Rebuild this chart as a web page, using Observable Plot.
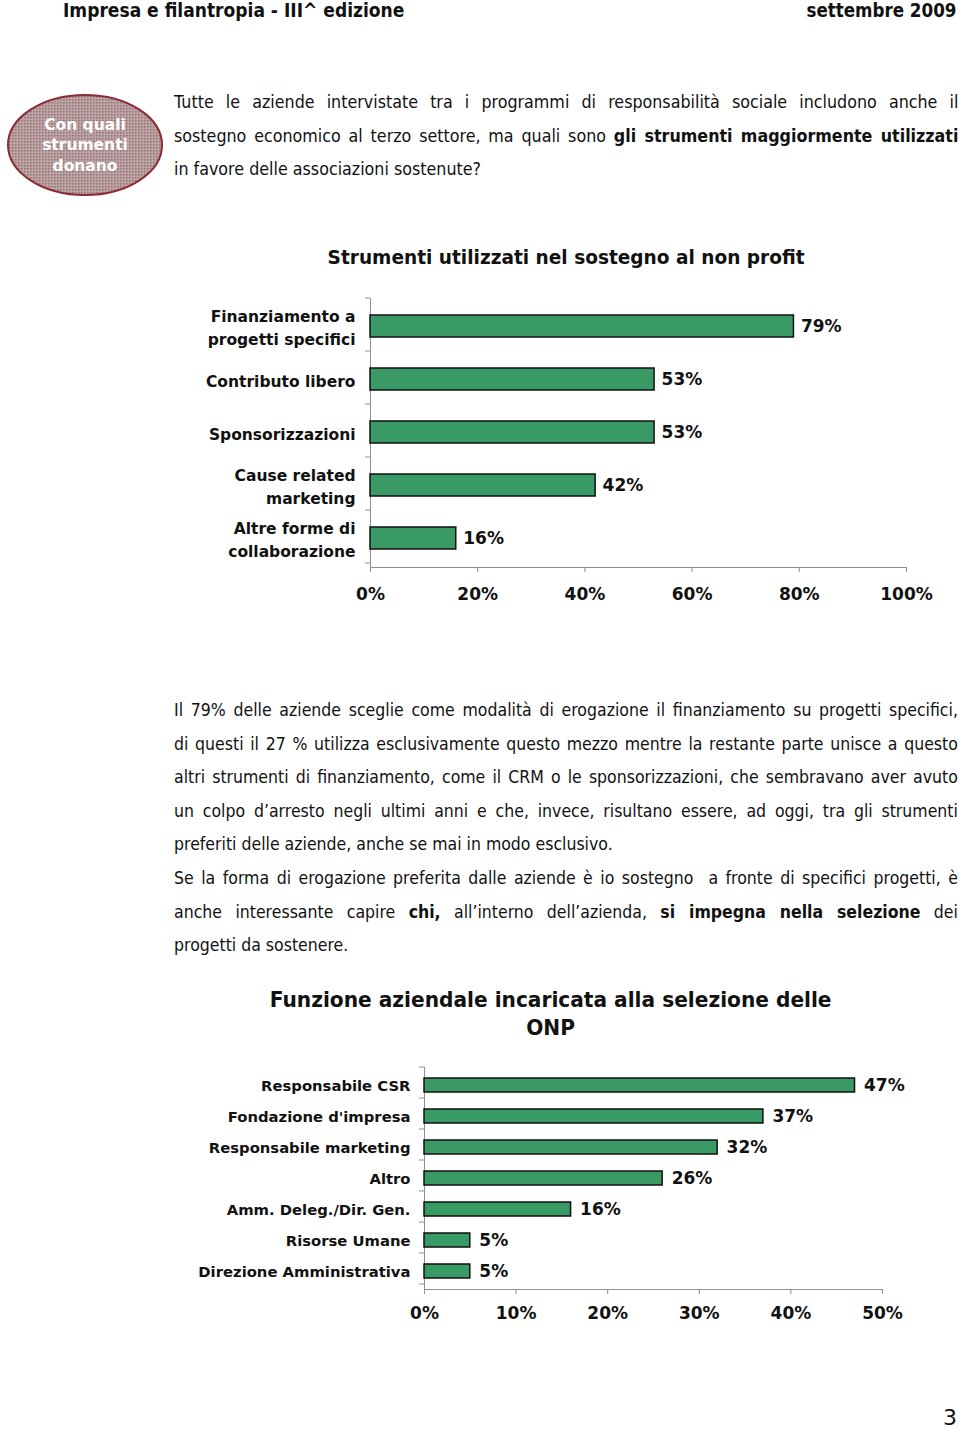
<!DOCTYPE html>
<html><head><meta charset="utf-8">
<script src="https://cdn.jsdelivr.net/npm/d3@7"></script>
<script src="https://cdn.jsdelivr.net/npm/@observablehq/plot@0.6"></script>
<style>
html,body{margin:0;padding:0;background:#fff;}
body{width:960px;height:1430px;position:relative;overflow:hidden;font-family:"DejaVu Sans",sans-serif;color:#111;}
.abs{position:absolute;}
.hdr{top:0;height:20px;line-height:20px;font-weight:bold;font-size:19px;white-space:nowrap;}
.para{position:absolute;left:174px;transform-origin:0 0;}
.ln{text-align:justify;text-align-last:justify;white-space:normal;}
.ln.last{text-align-last:left;}
.title{position:absolute;left:0;width:960px;text-align:center;font-weight:bold;white-space:nowrap;}
.title span{display:inline-block;}
</style></head><body>

<div class="abs hdr" style="left:63px;"><span style="display:inline-block;transform:scaleX(0.9);transform-origin:0 50%">Impresa e filantropia - III^ edizione</span></div>
<div class="abs hdr" style="right:4px;text-align:right;"><span style="display:inline-block;transform:scaleX(0.88);transform-origin:100% 50%">settembre 2009</span></div>

<svg class="abs" style="left:0;top:90px" width="172" height="112">
  <defs>
    <pattern id="dots" width="3" height="3" patternUnits="userSpaceOnUse">
      <rect width="3" height="3" fill="#bfa4a5"/>
      <rect width="1.5" height="1.5" fill="#8e7173"/>
    </pattern>
  </defs>
  <ellipse cx="85" cy="55" rx="77" ry="50" fill="url(#dots)" stroke="#8a2c36" stroke-width="2"/>
  <g fill="#fff" font-weight="bold" font-size="15.5" text-anchor="middle" font-family="DejaVu Sans">
    <text x="85" y="35" dominant-baseline="central">Con quali</text>
    <text x="85" y="55" dominant-baseline="central">strumenti</text>
    <text x="85" y="76" dominant-baseline="central">donano</text>
  </g>
</svg>

<div class="para" id="p1" style="top:86px;width:862px;transform:scaleX(0.91);font-size:17.5px;line-height:33.5px;">
  <div class="ln">Tutte le aziende intervistate tra i programmi di responsabilità sociale includono anche il</div>
  <div class="ln">sostegno economico al terzo settore, ma quali sono <b>gli strumenti maggiormente utilizzati</b></div>
  <div class="ln last">in favore delle associazioni sostenute?</div>
</div>

<div class="title" style="top:245px;font-size:19.5px;line-height:26px;left:86px;width:960px;"><span style="transform:scaleX(0.95)">Strumenti utilizzati nel sostegno al non profit</span></div>

<div class="abs" id="chart1" style="left:0;top:290px;"></div>

<div class="para" id="p2" style="top:694px;width:871px;transform:scaleX(0.9);font-size:17.5px;line-height:33.6px;">
  <div class="ln">Il 79% delle aziende sceglie come modalità di erogazione il finanziamento su progetti specifici,</div>
  <div class="ln">di questi il 27 % utilizza esclusivamente questo mezzo mentre la restante parte unisce a questo</div>
  <div class="ln">altri strumenti di finanziamento, come il CRM o le sponsorizzazioni, che sembravano aver avuto</div>
  <div class="ln">un colpo d’arresto negli ultimi anni e che, invece, risultano essere, ad oggi, tra gli strumenti</div>
  <div class="ln last">preferiti delle aziende, anche se mai in modo esclusivo.</div>
  <div class="ln">Se la forma di erogazione preferita dalle aziende è io sostegno&nbsp; a fronte di specifici progetti, è</div>
  <div class="ln">anche interessante capire <b>chi,</b> all’interno dell’azienda, <b>si impegna nella selezione</b> dei</div>
  <div class="ln last">progetti da sostenere.</div>
</div>

<div class="title" style="top:986px;font-size:21px;line-height:28px;left:71px;width:960px;"><span style="transform:scaleX(0.96)">Funzione aziendale incaricata alla selezione delle<br>ONP</span></div>

<div class="abs" id="chart2" style="left:0;top:1060px;"></div>

<div class="abs" style="right:3px;top:1405px;font-size:22px;line-height:26px;">3</div>

<script>
// ---- Data ----
const cats1 = ["Finanziamento a\nprogetti specifici", "Contributo libero", "Sponsorizzazioni", "Cause related\nmarketing", "Altre forme di\ncollaborazione"];
const vals1 = [79, 53, 53, 42, 16];
const ticks1 = [0, 20, 40, 60, 80, 100];

const cats2 = ["Responsabile CSR", "Fondazione d'impresa", "Responsabile marketing", "Altro", "Amm. Deleg./Dir. Gen.", "Risorse Umane", "Direzione Amministrativa"];
const vals2 = [47, 37, 32, 26, 16, 5, 5];
const ticks2 = [0, 10, 20, 30, 40, 50];

const BAR_FILL = "#3a9a66";
const AXIS_GRAY = "#8f8f8f";

function barChart(o) {
  const data = o.cats.map((c, i) => ({cat: c, value: o.vals[i]}));
  const chart = Plot.plot({
    width: o.width, height: o.height,
    marginLeft: o.ml, marginRight: o.mr, marginTop: o.mt, marginBottom: o.mb,
    style: {fontFamily: "'DejaVu Sans', sans-serif", color: "#111", background: "transparent", overflow: "visible"},
    x: {domain: [o.ticks[0], o.ticks[o.ticks.length - 1]]},
    y: {domain: o.cats, paddingInner: o.padding, paddingOuter: o.padding / 2},
    marks: [
      Plot.frame({anchor: "left", stroke: AXIS_GRAY}),
      Plot.frame({anchor: "bottom", stroke: AXIS_GRAY}),
      Plot.barX(data, {x: "value", y: "cat", fill: BAR_FILL, stroke: "#111", strokeWidth: 1.5}),
      Plot.text(data, {x: "value", y: "cat", text: d => d.value + "%", textAnchor: "start", dx: o.dx, fontSize: o.valueSize, fontWeight: "bold", fill: "#111"}),
      Plot.axisX({ticks: o.ticks, tickFormat: d => d + "%", tickSize: 5, tickPadding: o.tickPadX, stroke: AXIS_GRAY, fill: "#111", fontSize: o.valueSize, fontWeight: "bold", label: null}),
      Plot.axisY({tickSize: 0, tickPadding: o.tickPadY, fontSize: o.labelSize, fontWeight: "bold", fill: "#111", label: null, lineHeight: o.lineHeight})
    ]
  });
  // category boundary ticks on the y axis, from the band scale
  const ys = chart.scale("y");
  const r0 = ys.range[0];
  const step = ys.step || (ys.range[1] - ys.range[0]) / o.cats.length;
  d3.select(chart).append("g").attr("stroke", AXIS_GRAY)
    .selectAll("line").data(d3.range(o.cats.length + 1)).join("line")
    .attr("x1", o.ml - 5).attr("x2", o.ml)
    .attr("y1", i => r0 + i * step).attr("y2", i => r0 + i * step);
  return chart;
}

document.getElementById("chart1").append(barChart({
  cats: cats1, vals: vals1, ticks: ticks1,
  width: 960, height: 330, ml: 370, mr: 54, mt: 8, mb: 53,
  padding: 0.58, dx: 7, valueSize: 17, labelSize: 15.5, tickPadX: 15, tickPadY: 15, lineHeight: 1.45
}));

document.getElementById("chart2").append(barChart({
  cats: cats2, vals: vals2, ticks: ticks2,
  width: 960, height: 280, ml: 424, mr: 78, mt: 7, mb: 51,
  padding: 0.55, dx: 9, valueSize: 17, labelSize: 14.8, tickPadX: 12, tickPadY: 14, lineHeight: 1.2
}));
</script>
</body></html>
